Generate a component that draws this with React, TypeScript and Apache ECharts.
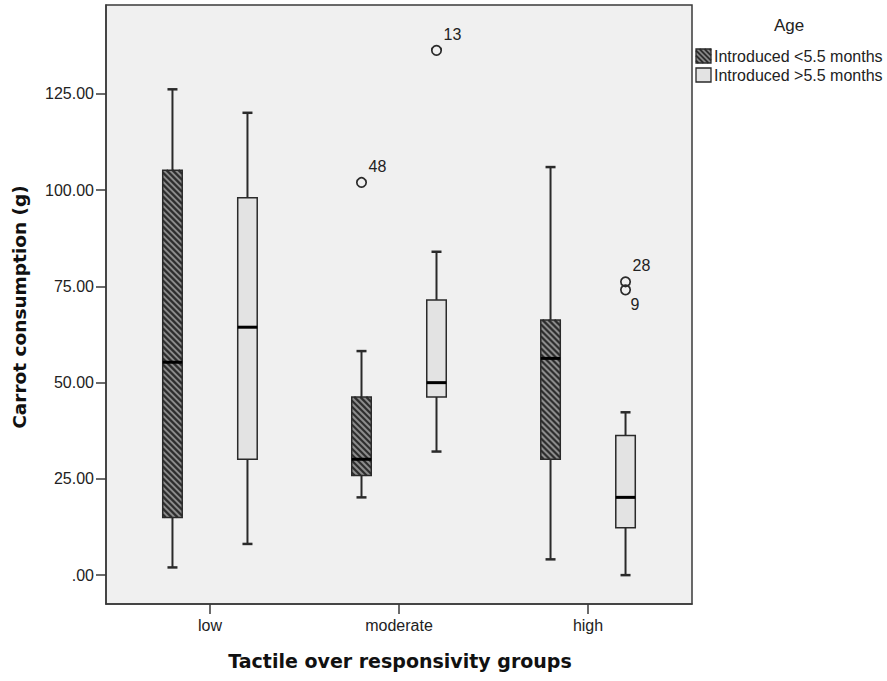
import React, { useEffect, useRef } from "react";
import * as echarts from "echarts";

const categories = ["low", "moderate", "high"];
const seriesNames = ["Introduced <5.5 months", "Introduced >5.5 months"];
// [min, q1, median, q3, max] per category
const earlyStats = [
  [2.0, 15.0, 55.3, 105.2, 126.2],
  [20.2, 25.9, 30.1, 46.3, 58.2],
  [4.1, 30.1, 56.3, 66.3, 106.0],
];
const lateStats = [
  [8.1, 30.1, 64.4, 98.0, 120.1],
  [32.1, 46.3, 50.0, 71.5, 84.0],
  [0.0, 12.3, 20.2, 36.3, 42.3],
];
const outlierCategory = [1, 1, 2, 2];
const outlierSeries = [0, 1, 1, 1];
const outlierValues = [102.0, 136.3, 76.2, 74.1];
const outlierLabels = ["48", "13", "28", "9"];
const yTicks = [0, 25, 50, 75, 100, 125];

const FONT = "'Liberation Sans', Arial, sans-serif";
const TITLE_FONT = "'DejaVu Sans', Verdana, sans-serif";
const BOX_HALF = 9.75;
const OFFSETS = [-37.5, 37.5];
const HATCH_BG = "#8c8c8c";
const HATCH_LINE = "#2e2e2e";
const LIGHT_FILL = "#e3e3e3";
const EDGE = "#2a2a2a";

function hatchLines(x0: number, y0: number, x1: number, y1: number, step: number, width: number) {
  const out: any[] = [];
  const cStart = x0 - y1;
  const cEnd = x1 - y0;
  for (let c = cStart + step / 2; c < cEnd; c += step) {
    const xa = Math.max(x0, y0 + c);
    const xb = Math.min(x1, y1 + c);
    if (xb <= xa) continue;
    out.push({
      type: "line",
      shape: { x1: xa, y1: xa - c, x2: xb, y2: xb - c },
      style: { stroke: HATCH_LINE, lineWidth: width },
      silent: true,
    });
  }
  return out;
}

function makeBoxSeries(name: string, stats: number[][], sIdx: number) {
  return {
    type: "custom",
    name,
    clip: false,
    data: stats.map((s, i) => [i, ...s]),
    renderItem: (params: any, api: any) => {
      const xi = api.value(0);
      const vals = [1, 2, 3, 4, 5].map((k) => api.value(k));
      const cx = api.coord([xi, 0])[0] + OFFSETS[sIdx];
      const y = (v: number) => api.coord([xi, v])[1];
      const [mn, q1, md, q3, mx] = vals.map(y);
      const x0 = cx - BOX_HALF;
      const x1 = cx + BOX_HALF;
      const children: any[] = [
        { type: "line", shape: { x1: cx, y1: mx, x2: cx, y2: q3 }, style: { stroke: EDGE, lineWidth: 2 } },
        { type: "line", shape: { x1: cx, y1: q1, x2: cx, y2: mn }, style: { stroke: EDGE, lineWidth: 2 } },
        { type: "line", shape: { x1: cx - 5, y1: mx, x2: cx + 5, y2: mx }, style: { stroke: EDGE, lineWidth: 2.5 } },
        { type: "line", shape: { x1: cx - 5, y1: mn, x2: cx + 5, y2: mn }, style: { stroke: EDGE, lineWidth: 2.5 } },
        {
          type: "rect",
          shape: { x: x0, y: q3, width: x1 - x0, height: q1 - q3 },
          style: { fill: sIdx === 0 ? HATCH_BG : LIGHT_FILL, stroke: "none" },
        },
      ];
      if (sIdx === 0) children.push(...hatchLines(x0, q3, x1, q1, 6, 2.2));
      children.push({
        type: "rect",
        shape: { x: x0, y: q3, width: x1 - x0, height: q1 - q3 },
        style: { fill: "none", stroke: EDGE, lineWidth: 1.5 },
      });
      children.push({
        type: "line",
        shape: { x1: x0, y1: md, x2: x1, y2: md },
        style: { stroke: "#000", lineWidth: 3 },
      });
      return { type: "group", children };
    },
  };
}

function makeOutlierSeries() {
  return {
    type: "custom",
    name: "outliers",
    clip: false,
    data: outlierValues.map((v, i) => [outlierCategory[i], outlierSeries[i], v]),
    renderItem: (params: any, api: any) => {
      const i = params.dataIndex;
      const xi = api.value(0);
      const s = api.value(1);
      const p = api.coord([xi, api.value(2)]);
      const cx = p[0] + OFFSETS[s];
      const cy = p[1];
      const below = outlierLabels[i] === "9";
      return {
        type: "group",
        children: [
          { type: "circle", shape: { cx, cy, r: 4.7 }, style: { fill: "none", stroke: EDGE, lineWidth: 1.7 } },
          {
            type: "text",
            x: cx + (below ? 5 : 7),
            y: below ? cy + 15 : cy - 16,
            style: {
              text: outlierLabels[i],
              fontFamily: FONT,
              fontSize: 16,
              fill: "#222",
              textAlign: "left",
              textVerticalAlign: "middle",
            },
          },
        ],
      };
    },
  };
}

function legendGraphic() {
  const els: any[] = [
    {
      type: "text",
      x: 789,
      y: 25,
      style: { text: "Age", fontFamily: FONT, fontSize: 17, fill: "#222", textAlign: "center", textVerticalAlign: "middle" },
    },
  ];
  const rows = [56, 75];
  rows.forEach((cy, k) => {
    const x0 = 696, x1 = 711, y0 = cy - 7, y1 = cy + 7;
    els.push({ type: "rect", shape: { x: x0, y: y0, width: x1 - x0, height: y1 - y0 }, style: { fill: k === 0 ? HATCH_BG : LIGHT_FILL } });
    if (k === 0) els.push(...hatchLines(x0, y0, x1, y1, 5, 1.8));
    els.push({ type: "rect", shape: { x: x0, y: y0, width: x1 - x0, height: y1 - y0 }, style: { fill: "none", stroke: EDGE, lineWidth: 1.3 } });
    els.push({
      type: "text",
      x: 714,
      y: cy,
      style: { text: seriesNames[k], fontFamily: FONT, fontSize: 16, fill: "#222", textAlign: "left", textVerticalAlign: "middle" },
    });
  });
  els.push({
    type: "text",
    x: 19,
    y: 307,
    rotation: Math.PI / 2,
    style: {
      text: "Carrot consumption (g)",
      fontFamily: TITLE_FONT,
      fontWeight: "bold",
      fontSize: 18.5,
      fill: "#111",
      textAlign: "center",
      textVerticalAlign: "middle",
    },
  });
  els.push({
    type: "text",
    x: 400,
    y: 661,
    style: {
      text: "Tactile over responsivity groups",
      fontFamily: TITLE_FONT,
      fontWeight: "bold",
      fontSize: 19,
      fill: "#111",
      textAlign: "center",
      textVerticalAlign: "middle",
    },
  });
  return els;
}

export default function App() {
  const ref = useRef<HTMLDivElement>(null);
  useEffect(() => {
    if (!ref.current) return;
    const chart = echarts.init(ref.current, undefined, { renderer: "svg" });
    chart.setOption({
      animation: false,
      backgroundColor: "#ffffff",
      grid: {
        left: 106,
        top: 5,
        width: 586,
        height: 599,
        show: true,
        backgroundColor: "#f0f0f0",
        borderColor: "#3a3a3a",
        borderWidth: 1.5,
      },
      xAxis: {
        type: "value",
        min: -0.55,
        max: 2.55,
        splitLine: { show: false },
        axisLine: { show: true, onZero: false, lineStyle: { color: "#3a3a3a", width: 1.5 } },
        axisTick: { show: true, inside: false, length: 10, customValues: [0, 1, 2], lineStyle: { color: "#3a3a3a", width: 1.5 } },
        axisLabel: {
          customValues: [0, 1, 2],
          formatter: (v: number) => categories[Math.round(v)] ?? "",
          fontFamily: FONT,
          fontSize: 16,
          color: "#222",
          margin: 13,
        },
      },
      yAxis: {
        type: "value",
        min: -7.5,
        max: 148.1,
        splitLine: { show: false },
        axisLine: { show: true, onZero: false, lineStyle: { color: "#3a3a3a", width: 1.5 } },
        axisTick: { show: true, inside: false, length: 10, customValues: yTicks, lineStyle: { color: "#3a3a3a", width: 1.5 } },
        axisLabel: {
          customValues: yTicks,
          formatter: (v: number) => (v === 0 ? ".00" : v.toFixed(2)),
          fontFamily: FONT,
          fontSize: 16,
          color: "#222",
          margin: 12,
        },
      },
      series: [
        makeBoxSeries(seriesNames[0], earlyStats, 0),
        makeBoxSeries(seriesNames[1], lateStats, 1),
        makeOutlierSeries(),
      ],
      graphic: legendGraphic(),
    });
    return () => chart.dispose();
  }, []);
  return (
    <div
      ref={ref}
      style={{ position: "fixed", left: 0, top: 0, width: 887, height: 681, background: "#fff" }}
    />
  );
}
